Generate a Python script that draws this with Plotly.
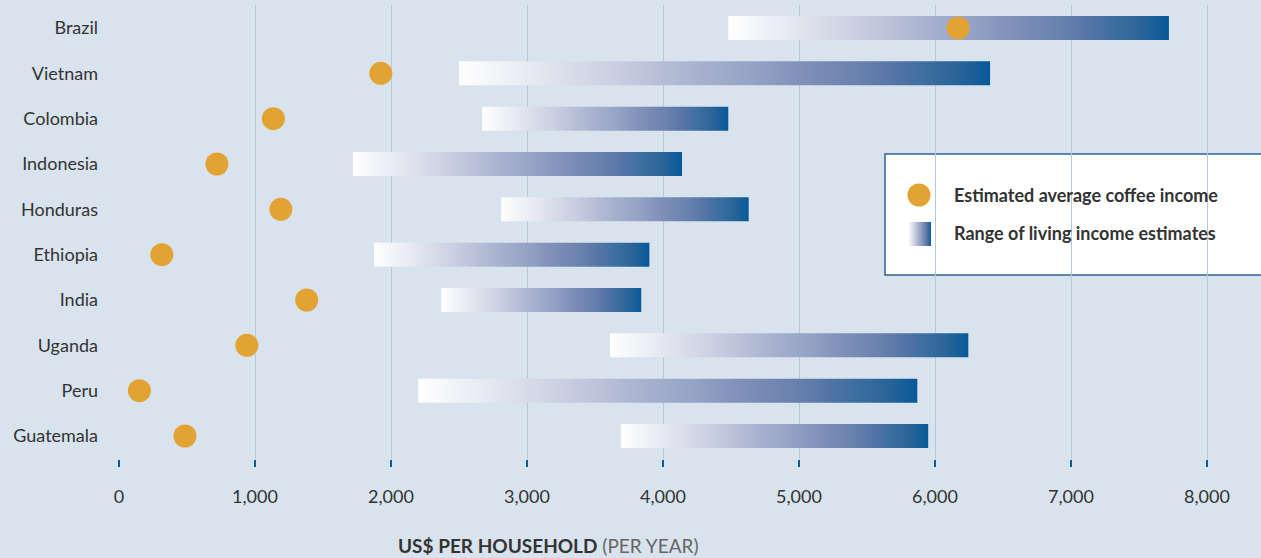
import plotly.graph_objects as go

countries = ["Brazil", "Vietnam", "Colombia", "Indonesia", "Honduras",
             "Ethiopia", "India", "Uganda", "Peru", "Guatemala"]
range_low = [4480, 2500, 2670, 1720, 2810, 1875, 2370, 3610, 2200, 3690]
range_high = [7720, 6405, 4480, 4140, 4630, 3900, 3840, 6245, 5870, 5950]
coffee_income = [6170, 1925, 1135, 720, 1190, 315, 1380, 940, 150, 485]
x_ticks = [0, 1000, 2000, 3000, 4000, 5000, 6000, 7000, 8000]
x_ticklabels = ["0", "1,000", "2,000", "3,000", "4,000", "5,000", "6,000", "7,000", "8,000"]

BG = "#d9e3ed"
DOT = "#e3a333"
BLUE = "#0a5a96"
FONT = "Lato"
TXT = "#333333"
grad = [[0, "#ffffff"], [0.15, "#e4e7f0"], [0.3, "#c8cde0"], [0.45, "#a8b2cf"],
        [0.55, "#96a3c6"], [0.65, "#7f8fb8"], [0.75, "#6a82ae"], [0.82, "#5574a6"],
        [0.88, "#3c6ea0"], [0.94, "#2a6498"], [1, "#07599a"]]

W, H = 1261, 558
ml, mr, mt, mb = 119, 0, 5, 99
pw, ph = W - ml - mr, H - mt - mb
xmax = 8000 * pw / 1088.0
row_px = 45.33
y_top = -23 / row_px
y_bot = 9 + 23 / row_px
hh = 12 / row_px

def px_to_x(px):
    return (px - ml) / pw * xmax

def py_to_y(py):
    return y_top + (py - mt) / ph * (y_bot - y_top)

fig = go.Figure()
for i, c in enumerate(countries):
    lo, hi = range_low[i], range_high[i]
    fig.add_trace(go.Scatter(
        x=[lo, hi, hi, lo, lo], y=[i - hh, i - hh, i + hh, i + hh, i - hh],
        mode="lines", line=dict(width=0), fill="toself",
        fillgradient=dict(type="horizontal", colorscale=grad),
        hoverinfo="skip", showlegend=False))

fig.add_trace(go.Scatter(
    x=coffee_income, y=list(range(len(countries))), mode="markers",
    marker=dict(color=DOT, size=23, line=dict(width=0)),
    showlegend=False, hoverinfo="x"))

# legend box
fig.add_shape(type="rect", xref="paper", yref="paper",
              x0=(885 - ml) / pw, x1=1.02,
              y0=1 - (275 - mt) / ph, y1=1 - (154 - mt) / ph,
              fillcolor="white", line=dict(color="#2d64a0", width=1.5), layer="between")
# legend gradient swatch
gx0, gx1 = px_to_x(908), px_to_x(931)
gy0, gy1 = py_to_y(222), py_to_y(246)
fig.add_trace(go.Scatter(
    x=[gx0, gx1, gx1, gx0, gx0], y=[gy0, gy0, gy1, gy1, gy0],
    mode="lines", line=dict(width=0), fill="toself",
    fillgradient=dict(type="horizontal", colorscale=grad),
    hoverinfo="skip", showlegend=False))
fig.add_trace(go.Scatter(
    x=[px_to_x(919)], y=[py_to_y(195)], mode="markers",
    marker=dict(color=DOT, size=23), hoverinfo="skip", showlegend=False))
for txt, py in [("Estimated average coffee income", 195), ("Range of living income estimates", 233)]:
    fig.add_annotation(x=px_to_x(952), y=py_to_y(py), xref="x", yref="y",
                       text="<b>" + txt + "</b>", showarrow=False, xanchor="left",
                       yanchor="middle", font=dict(family=FONT, size=18, color=TXT))

fig.add_annotation(x=(396 - ml) / pw, y=-(545 - (mt + ph)) / ph, xref="paper", yref="paper",
                   text="<b>US$ PER HOUSEHOLD</b> <span style='color:#666666'>(PER YEAR)</span>",
                   showarrow=False, xanchor="left", yanchor="middle",
                   font=dict(family=FONT, size=19, color=TXT))

fig.update_layout(
    width=W, height=H, margin=dict(l=ml, r=mr, t=mt, b=mb),
    paper_bgcolor=BG, plot_bgcolor=BG,
    font=dict(family=FONT, size=18, color=TXT),
    xaxis=dict(range=[0, xmax], tickvals=x_ticks, ticktext=x_ticklabels,
               showgrid=True, gridcolor="#b9c8d8", gridwidth=1, zeroline=False,
               showline=False, ticks="outside", ticklen=7, tickwidth=2, tickcolor=BLUE,
               ticklabelstandoff=14, tickfont=dict(family=FONT, size=18, color=TXT)),
    yaxis=dict(range=[y_bot, y_top], tickvals=list(range(len(countries))), ticktext=countries,
               showgrid=False, zeroline=False, showline=False, ticks="",
               ticklabelstandoff=20, tickfont=dict(family=FONT, size=18, color=TXT)),
    showlegend=False,
)
fig.write_html("out.html", config={"displayModeBar": False},
               post_script="document.body.style.margin='0';")
